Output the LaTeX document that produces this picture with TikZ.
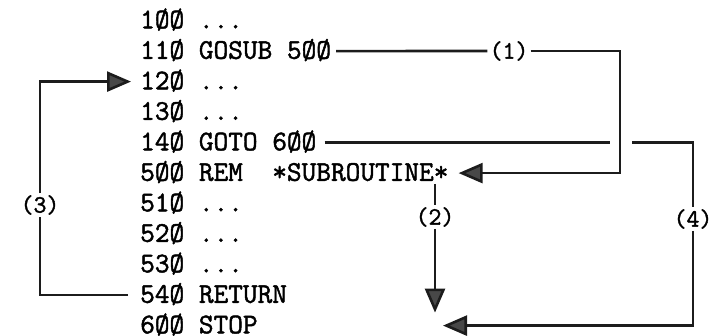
\documentclass[tikz,border=0pt]{standalone}
\usepackage{fontspec}
\usetikzlibrary{arrows.meta,calc,positioning}
\definecolor{ink}{RGB}{28,28,28}
\definecolor{headfill}{RGB}{72,72,72}
\newfontfamily\typefam{Latin Modern Mono}[FakeBold=1.6]
\newcommand{\codefont}{\fontsize{28.5pt}{30pt}\selectfont\typefam}
\newcommand{\tagfont}{\fontsize{25pt}{27pt}\selectfont\typefam}

\begin{document}
\begin{tikzpicture}[
    x=1pt,y=-1pt,
    codeline/.style={anchor=base west,inner sep=0pt,text height=17.4pt,text depth=2pt,font=\codefont},
    tag/.style={inner sep=2pt,font=\tagfont},
    link/.style={draw=ink,line width=2.6pt},
    flow/.style={link,-{Triangle[length=24pt,width=20pt,fill=headfill]}}
  ]
  \useasboundingbox (0,0) rectangle (719,336);

  % program listing
  \foreach \name/\txt [count=\i from 0] in {
      100/{1ØØ ...},
      110/{11Ø GOSUB 5ØØ},
      120/{12Ø ...},
      130/{13Ø ...},
      140/{14Ø GOTO 6ØØ},
      500/{5ØØ REM\ \ *SUBROUTINE*},
      510/{51Ø ...},
      520/{52Ø ...},
      530/{53Ø ...},
      540/{54Ø RETURN},
      600/{6ØØ STOP}}
    \node[codeline] (n\name) at (140,{28.3+30.5*\i}) {\txt};

  % step labels
  \node[tag] (lbl1) at (509,51) {(1)};
  \node[tag] (lbl2) at (435,217) {(2)};
  \node[tag] (lbl3) at (40,205) {(3)};
  \node[tag] (lbl4) at (693,219) {(4)};
  \coordinate (r1) at (620,0);

  % (1) GOSUB
  \draw[link] ([xshift=5pt]n110.east) -- (lbl1.west);
  \draw[flow] (lbl1.east) -| (r1 |- n500.east) -- ([xshift=10pt]n500.east);

  % (2) fall through
  \draw[link] ([yshift=-1pt]lbl2 |- n500.south) -- (lbl2.north);
  \draw[flow] (lbl2.south) -- ([yshift=13pt]lbl2 |- n600.west);

  % (3) RETURN
  \draw[link] ([xshift=-12pt]n540.west) -| (lbl3.south);
  \draw[flow] (lbl3.north) |- ([xshift=-9pt]n120.west);

  % (4) GOTO
  \draw[link] ([xshift=8pt]n140.east) -- ([xshift=-10pt]r1 |- n140.east);
  \draw[link] ([xshift=12pt]r1 |- n140.east) -| (lbl4.north);
  \draw[flow] (lbl4.south) |- ([xshift=8pt]lbl2 |- n600.west);
\end{tikzpicture}
\end{document}
